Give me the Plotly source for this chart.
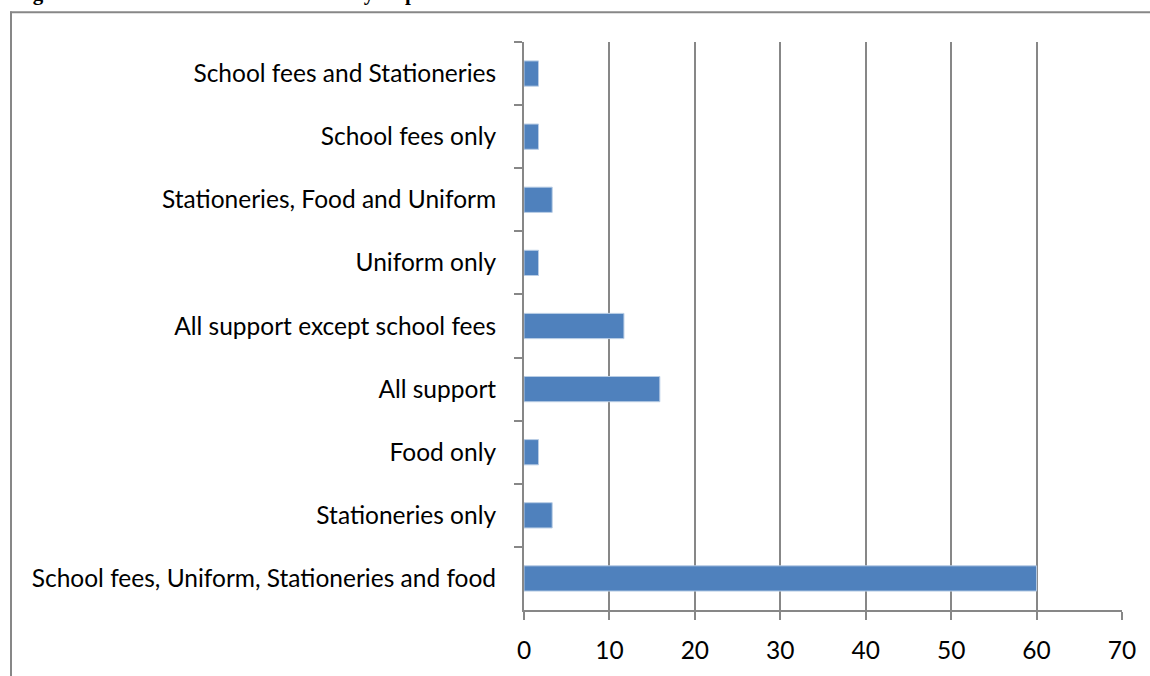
import plotly.graph_objects as go

categories = [
    "School fees and Stationeries",
    "School fees only",
    "Stationeries, Food and Uniform",
    "Uniform only",
    "All support except school fees",
    "All support",
    "Food only",
    "Stationeries only",
    "School fees, Uniform, Stationeries and food",
]
values = [1.7, 1.7, 3.3, 1.7, 11.7, 15.9, 1.7, 3.3, 60]
x_ticks = [0, 10, 20, 30, 40, 50, 60, 70]
title_text = "Figure 4: Basic Education Costs Paid by Orphans"

W, H = 1150, 676
L, R, T, B = 524, 28, 42, 59
pw, ph = W - L - R, H - T - B

grey = "#878787"

fig = go.Figure()
fig.add_trace(go.Bar(
    x=values, y=categories, orientation="h", width=0.4,
    marker=dict(color="#4F81BD", line=dict(color="#B9CDE5", width=1)),
))

def px_x(p):
    return (p - L) / pw

def px_y(p):
    return (H - B - p) / ph

# outer chart frame (top and left edges visible; the rest is cropped away)
fig.add_shape(type="line", xref="paper", yref="paper",
              x0=px_x(10), x1=px_x(1160), y0=px_y(12), y1=px_y(12),
              line=dict(color=grey, width=2), layer="above")
fig.add_shape(type="line", xref="paper", yref="paper",
              x0=px_x(11), x1=px_x(11), y0=px_y(11), y1=px_y(690),
              line=dict(color=grey, width=2), layer="above")

fig.add_annotation(text="<b>" + title_text + "</b>", xref="paper", yref="paper",
                   x=px_x(12), y=px_y(7), xanchor="left", yanchor="bottom",
                   showarrow=False,
                   font=dict(family="Liberation Serif", size=21, color="black"))

fig.update_layout(
    width=W, height=H,
    margin=dict(l=L, r=R, t=T, b=B, pad=0),
    paper_bgcolor="white", plot_bgcolor="white",
    showlegend=False,
    font=dict(family="Lato", size=24, color="black"),
)
fig.update_xaxes(
    range=[0, 70], tickvals=x_ticks, ticktext=[str(v) for v in x_ticks],
    showgrid=True, gridcolor=grey, gridwidth=1.5,
    showline=True, linecolor=grey, linewidth=2,
    ticks="outside", ticklen=8, tickcolor=grey, tickwidth=2,
    ticklabelstandoff=10, zeroline=False,
    tickfont=dict(family="Lato", size=24.5, color="black"),
)
fig.update_yaxes(
    autorange="reversed", type="category",
    showgrid=False, showline=True, linecolor=grey, linewidth=2,
    ticks="outside", ticklen=8, tickcolor=grey, tickwidth=2,
    tickson="boundaries", ticklabelstandoff=21,
    tickfont=dict(family="Lato", size=24.5, color="black"),
)

fig.write_html("out.html",
               config={"displayModeBar": False},
               post_script="document.body.style.margin='0';document.body.style.overflow='hidden';")
